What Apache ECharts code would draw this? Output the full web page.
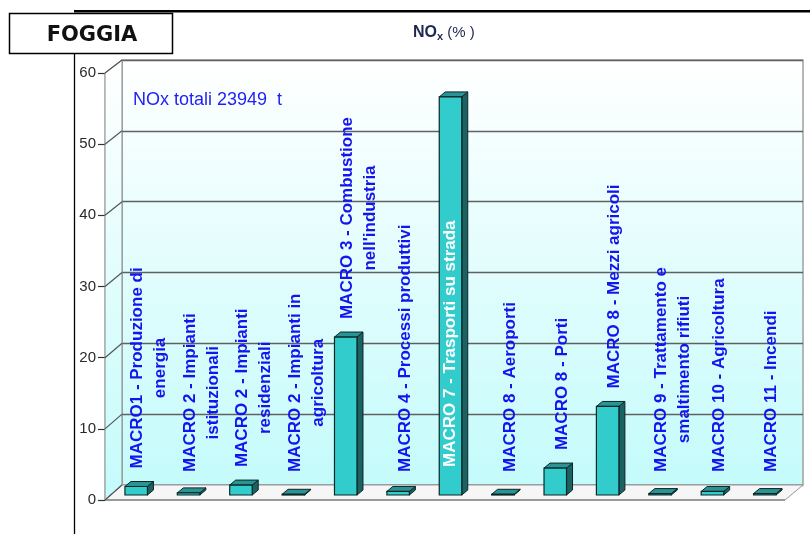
<!DOCTYPE html>
<html><head><meta charset="utf-8">
<script src="https://cdn.jsdelivr.net/npm/echarts@6/dist/echarts.min.js"></script>
<style>html,body{margin:0;padding:0;background:#fff}#c{width:810px;height:534px}</style>
</head><body><div id="c"></div>
<script>
// ---- data ----
const categories = [
  "MACRO1 - Produzione di\nenergia",
  "MACRO 2 - Impianti\nistituzionali",
  "MACRO 2 - Impianti\nresidenziali",
  "MACRO 2 - Impianti in\nagricoltura",
  "MACRO 3 - Combustione\nnell'industria",
  "MACRO 4 - Processi produttivi",
  "MACRO 7 - Trasporti su strada",
  "MACRO 8 - Aeroporti",
  "MACRO 8 - Porti",
  "MACRO 8 - Mezzi agricoli",
  "MACRO 9 - Trattamento e\nsmaltimento rifiuti",
  "MACRO 10 - Agricoltura",
  "MACRO 11 - Incendi"
];
const values = [1.2, 0.3, 1.4, 0.1, 22.3, 0.5, 56.2, 0.1, 3.8, 12.5, 0.2, 0.5, 0.2];
const yTicks = [0, 10, 20, 30, 40, 50, 60];
const chartTitle = "FOGGIA";
const totalText = "NOx totali 23949  t";

// ---- layout / style ----
const FAMILY = '"Liberation Sans", Arial, sans-serif';
const LABEL_FONT = 'bold 17px ' + FAMILY;
const LINE_H = 23;
const measureCtx = document.createElement('canvas').getContext('2d');
function textWidth(t, font) { measureCtx.font = font; return measureCtx.measureText(t).width; }

const BACK = { left: 122, top: 60, right: 803, bottom: 485 };
const FRONT = { x: 105, top: 73, bottom: 500 };
const wallGrad = () => new echarts.graphic.LinearGradient(0, 0, 0, 1, [
  { offset: 0, color: '#ffffff' }, { offset: 1, color: '#c4fbfb' }]);

const chart = echarts.init(document.getElementById('c'), null, { renderer: 'canvas' });

function frontY(backY) {
  return FRONT.bottom - (BACK.bottom - backY) * ((FRONT.bottom - FRONT.top) / (BACK.bottom - BACK.top));
}

function renderBar(params, api) {
  const i = api.value(0), v = api.value(1);
  const c = api.coord([i, v]);
  const c0 = api.coord([i, 0]);
  const fx = c[0] - 12, w = 22.5;
  const L = fx - w / 2, R = fx + w / 2;
  const yb = c0[1] + 10, yt = c[1] + 10;
  const ddx = 6, ddy = -5;
  const stroke = '#0c2626';
  const children = [
    { type: 'polygon', shape: { points: [[R, yt], [R + ddx, yt + ddy], [R + ddx, yb + ddy], [R, yb]] },
      style: { fill: '#1d6262', stroke: stroke, lineWidth: 1 } },
    { type: 'polygon', shape: { points: [[L, yt], [R, yt], [R + ddx, yt + ddy], [L + ddx, yt + ddy]] },
      style: { fill: '#2a9393', stroke: stroke, lineWidth: 1 } },
    { type: 'rect', shape: { x: L, y: yt, width: w, height: Math.max(yb - yt, 0.5) },
      style: { fill: '#33cccc', stroke: stroke, lineWidth: 1.2 } }
  ];
  // label
  const name = categories[i];
  const lines = name.split('\n');
  const maxW = Math.max.apply(null, lines.map(l => textWidth(l, LABEL_FONT)));
  let bottom = Math.min(472, yt - 18);
  let color = '#1414ee';
  let cx = c[0] - 5 + (lines.length - 1) * 6;
  if (bottom - maxW < BACK.top + 2) {
    bottom = 467; color = '#ffffff'; cx = fx;
  }
  children.push({
    type: 'text', x: cx, y: bottom - maxW / 2, rotation: Math.PI / 2,
    style: { text: name, fill: color, font: LABEL_FONT, align: 'center', verticalAlign: 'middle', lineHeight: LINE_H }
  });
  return { type: 'group', children: children };
}

function renderDiag(params, api) {
  const v = api.value(1);
  const c = api.coord([0, v]);
  const bx = c[0] - api.size([1, 0])[0] / 2;
  return { type: 'line', shape: { x1: FRONT.x, y1: frontY(c[1]), x2: bx, y2: c[1] },
    style: { stroke: '#555', lineWidth: 1.2 } };
}

const option = {
  animation: false,
  backgroundColor: '#ffffff',
  grid: [
    { left: BACK.left, top: BACK.top, width: BACK.right - BACK.left, height: BACK.bottom - BACK.top,
      show: true, backgroundColor: wallGrad(), borderColor: '#a0a0a0', borderWidth: 1.5, z: 0 },
    { left: FRONT.x, top: FRONT.top, width: BACK.left - FRONT.x, height: FRONT.bottom - FRONT.top }
  ],
  xAxis: [
    { type: 'category', gridIndex: 0, data: categories, show: false },
    { type: 'value', gridIndex: 1, show: false, min: 0, max: 1 }
  ],
  yAxis: [
    { type: 'value', gridIndex: 0, min: 0, max: 60, interval: 10,
      axisLabel: { show: false }, axisLine: { show: false }, axisTick: { show: false },
      splitLine: { show: true, lineStyle: { color: '#606060', width: 1.3 } } },
    { type: 'value', gridIndex: 1, min: 0, max: 60, interval: 10,
      axisLine: { show: true, lineStyle: { color: '#333', width: 1.3 } },
      axisTick: { show: true, length: 7, lineStyle: { color: '#333', width: 1.2 } },
      axisLabel: { fontSize: 15, color: '#2a2a2a', margin: 9, fontFamily: FAMILY },
      splitLine: { show: false } }
  ],
  graphic: [
    // left wall
    { type: 'polygon', z: 1, shape: { points: [[FRONT.x, FRONT.top], [BACK.left, BACK.top], [BACK.left, BACK.bottom], [FRONT.x, FRONT.bottom]] },
      style: { fill: wallGrad(), stroke: '#888', lineWidth: 1 } },
    // floor
    { type: 'polygon', z: 1, shape: { points: [[BACK.left, BACK.bottom], [BACK.right, BACK.bottom], [BACK.right - 18, FRONT.bottom], [FRONT.x, FRONT.bottom]] },
      style: { fill: '#f6f6f6', stroke: '#9a9a9a', lineWidth: 1 } },
    { type: 'line', z: 1, shape: { x1: FRONT.x, y1: FRONT.bottom, x2: BACK.right - 18, y2: FRONT.bottom },
      style: { stroke: '#9a9a9a', lineWidth: 2 } },
    // outer frame
    { type: 'rect', z: 5, shape: { x: 74, y: 10, width: 736, height: 2.6 }, style: { fill: '#000' } },
    { type: 'line', z: 5, shape: { x1: 74.5, y1: 53, x2: 74.5, y2: 534 }, style: { stroke: '#000', lineWidth: 1.3 } },
    { type: 'rect', z: 6, shape: { x: 9.5, y: 13.5, width: 163, height: 40 }, style: { fill: '#fff', stroke: '#000', lineWidth: 1.5 } },
    { type: 'text', z: 7, x: 92, y: 36, style: { text: chartTitle, font: 'bold 21px "DejaVu Sans", sans-serif', fill: '#111', align: 'center', verticalAlign: 'middle' } },
    { type: 'text', z: 7, x: 413, y: 33, style: {
        text: '{a|NO}{b|x}{c| (% )}', align: 'left', verticalAlign: 'middle',
        rich: {
          a: { font: 'bold 16px ' + FAMILY, fill: '#1e2850', color: '#1e2850' },
          b: { font: 'bold 11px ' + FAMILY, fill: '#1e2850', color: '#1e2850', padding: [8, 0, 0, 0] },
          c: { font: '15px ' + FAMILY, fill: '#1e2850', color: '#1e2850' }
        } } },
    { type: 'text', z: 7, x: 133, y: 100, style: { text: totalText, font: '18px ' + FAMILY, fill: '#1e1ef5', align: 'left', verticalAlign: 'middle' } }
  ],
  series: [
    { type: 'custom', name: 'diag', xAxisIndex: 0, yAxisIndex: 0, clip: false, z: 2,
      data: yTicks.map(v => [0, v]), encode: { x: 0, y: 1 }, renderItem: renderDiag, silent: true },
    { type: 'custom', name: 'NOx', xAxisIndex: 0, yAxisIndex: 0, clip: false, z: 3,
      data: values.map((v, i) => [i, v]), encode: { x: 0, y: 1 }, renderItem: renderBar }
  ]
};
chart.setOption(option);
</script>
</body></html>
